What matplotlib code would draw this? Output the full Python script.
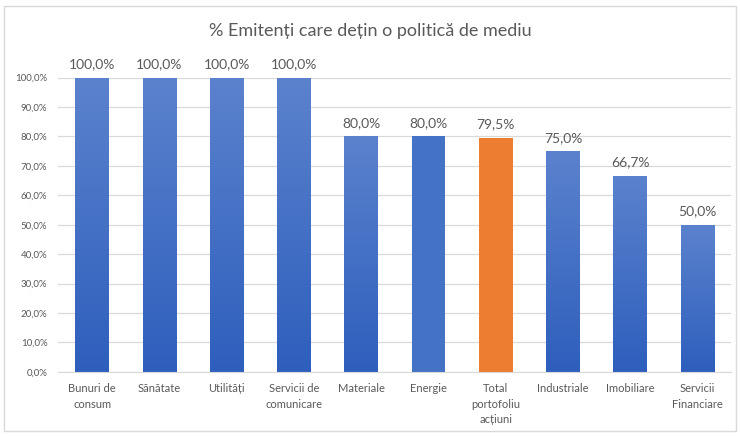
import matplotlib
matplotlib.use("Agg")
import matplotlib.pyplot as plt
import numpy as np
from matplotlib.colors import LinearSegmentedColormap
from matplotlib.patches import Rectangle
from matplotlib.ticker import FuncFormatter, MultipleLocator

plt.rcParams["font.family"] = ["Lato", "DejaVu Sans"]

categories = [
    "Bunuri de\nconsum", "Sănătate", "Utilități", "Servicii de\ncomunicare",
    "Materiale", "Energie", "Total\nportofoliu\nacțiuni", "Industriale",
    "Imobiliare", "Servicii\nFinanciare",
]
values = [100.0, 100.0, 100.0, 100.0, 80.0, 80.0, 79.5, 75.0, 66.7, 50.0]
highlight = "Total\nportofoliu\nacțiuni"
flat = ["Energie"]

TEXT = "#595959"
blue_grad = LinearSegmentedColormap.from_list("bg", ["#2e5fbd", "#5b82cd"])

fig = plt.figure(figsize=(7.4, 4.36), dpi=100)
fig.patches.append(Rectangle((0.006, 0.012), 0.988, 0.975, transform=fig.transFigure,
                             fill=False, edgecolor="#d9d9d9", lw=1.0))
ax = fig.add_axes([0.079, 0.147, 0.909, 0.675])

x = np.arange(len(categories))
bars = ax.bar(x, values, width=0.5, color="none", zorder=3)
grad = np.linspace(0, 1, 256).reshape(-1, 1)
for cat, bar, v in zip(categories, bars, values):
    bx, w = bar.get_x(), bar.get_width()
    if cat == highlight:
        bar.set_facecolor("#ed7d31")
    elif cat in flat:
        bar.set_facecolor("#4472c4")
    else:
        # vertical gradient: darker at the base, lighter at the top
        im = ax.imshow(grad, cmap=blue_grad, aspect="auto", origin="lower",
                       extent=(bx, bx + w, 0, v), zorder=3)
        im.set_clip_path(bar)
    ax.text(bar.get_x() + w / 2, v + 2.5, f"{v:.1f}%".replace(".", ","),
            ha="center", va="bottom", fontsize=10, color=TEXT)

ax.set_xlim(-0.5, len(categories) - 0.5)
ax.set_ylim(0, 100)
ax.yaxis.set_major_locator(MultipleLocator(10))
ax.yaxis.set_major_formatter(FuncFormatter(lambda v, _: f"{v:.1f}%".replace(".", ",")))
ax.set_xticks(x)
ax.set_xticklabels(categories, fontsize=8, color=TEXT, linespacing=1.5)
ax.tick_params(axis="y", labelsize=7, colors=TEXT, length=0, pad=8)
ax.tick_params(axis="x", length=0, pad=8)
ax.grid(axis="y", color="#d9d9d9", lw=0.9, zorder=0)
ax.set_axisbelow(True)
for side in ("top", "right", "left"):
    ax.spines[side].set_visible(False)
ax.spines["bottom"].set_color("#d9d9d9")
ax.spines["bottom"].set_zorder(4)

fig.text(0.5, 0.928, "% Emitenți care dețin o politică de mediu",
         ha="center", va="center", fontsize=13, color=TEXT)

fig.savefig("out.png", dpi=100)
